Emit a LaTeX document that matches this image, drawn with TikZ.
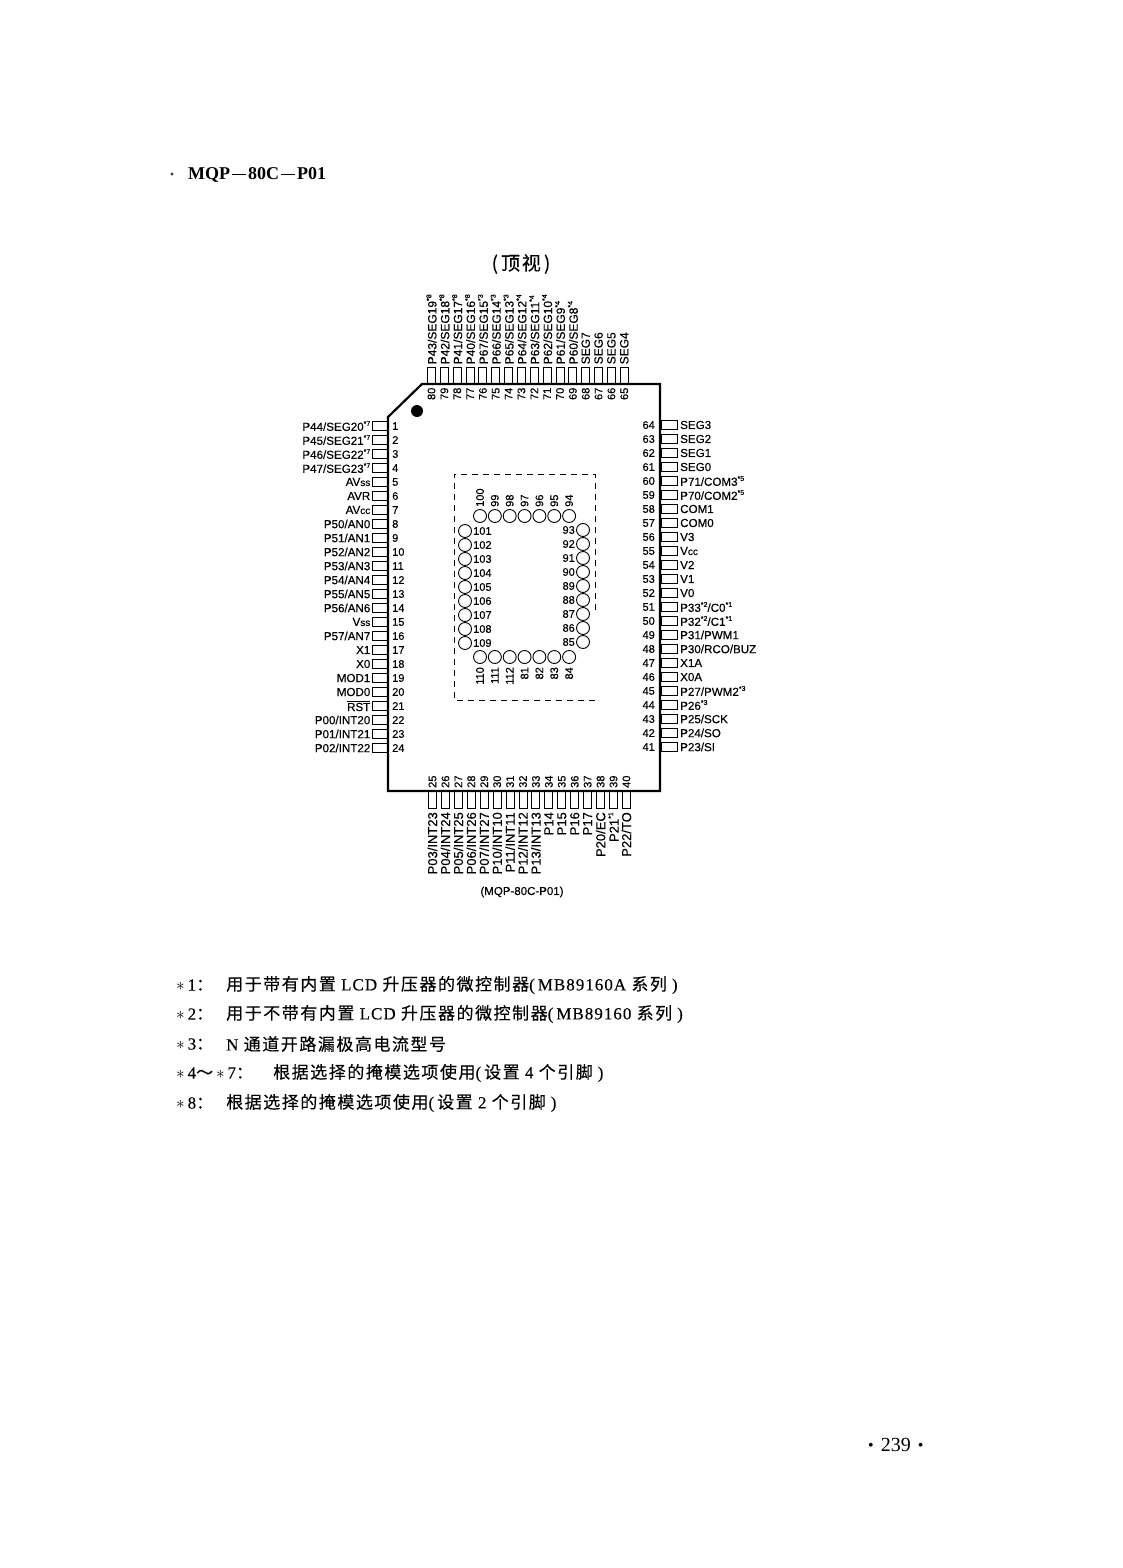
\documentclass[tikz,border=0pt]{standalone}
\usepackage{fontspec}
\setmainfont{Liberation Serif}
\setsansfont[FakeBold=0.35]{Liberation Sans}
\newfontfamily\cjk[LetterSpace=9,FakeBold=0.3]{Noto Sans CJK SC}
\newfontfamily\notefont[LetterSpace=6,FakeBold=0.25]{Liberation Serif}
\newcommand{\st}[1]{\raisebox{0.42em}{\fontsize{7}{7}\selectfont *#1}}
\newcommand{\sm}[1]{{\fontsize{10}{10}\selectfont #1}}
\newcommand{\hdash}{\hspace{2pt}\rule[4.5pt]{14pt}{1.2pt}\hspace{2pt}}
\newcommand{\lp}{(\hspace{3pt}}
\newcommand{\rp}{\hspace{5pt})}
\tikzset{
  pinh/.style={draw=black,line width=0.9pt,minimum width=16pt,minimum height=8.5pt,inner sep=0pt},
  pinv/.style={draw=black,line width=0.9pt,minimum width=8pt,minimum height=17pt,inner sep=0pt},
  lbl/.style={font=\sffamily\fontsize{11.6}{11.6}\selectfont,inner sep=0pt,text=black},
  lblt/.style={font=\sffamily\fontsize{12}{12}\selectfont,inner sep=0pt,text=black},
  lblb/.style={font=\sffamily\fontsize{13}{13}\selectfont,inner sep=0pt,text=black},
  num/.style={font=\sffamily\fontsize{11}{11}\selectfont,inner sep=0pt,text=black},
  pad/.style={draw=black,line width=0.9pt,circle,minimum size=13pt,inner sep=0pt},
  note/.style={font=\notefont\fontsize{17}{17}\selectfont,inner sep=0pt,anchor=west,text=black},
}
\newcommand{\lpin}[2]{%
  \pgfmathsetmacro{\pp}{426+14*(#1-1)}%
  \node[pinh] (p#1) at (380,\pp) {};
  \node[lbl,anchor=east] (l#1) at (370.5,\pp) {#2};
  \node[num,anchor=west] (n#1) at (392,\pp) {#1};
}
\newcommand{\rpin}[2]{%
  \pgfmathsetmacro{\pp}{425+14*(64-#1)}%
  \node[pinh] (p#1) at (669,\pp) {};
  \node[lbl,anchor=west] (l#1) at (680,\pp) {#2};
  \node[num,anchor=east] (n#1) at (655,\pp) {#1};
}
\newcommand{\tpin}[2]{%
  \pgfmathsetmacro{\pp}{431.5+12.85*(80-#1)}%
  \node[pinv] (p#1) at (\pp,375.5) {};
  \node[lblt,anchor=west,rotate=90] (l#1) at (\pp,364.5) {#2};
  \node[num,anchor=east,rotate=90] (n#1) at (\pp,387.5) {#1};
}
\newcommand{\bpin}[2]{%
  \pgfmathsetmacro{\pp}{432.5+12.93*(#1-25)}%
  \node[pinv] (p#1) at (\pp,800) {};
  \node[lblb,anchor=east,rotate=90] (l#1) at (\pp,812) {#2};
  \node[num,anchor=west,rotate=90] (n#1) at (\pp,788) {#1};
}
\begin{document}
\begin{tikzpicture}[x=1pt,y=-1pt]
\useasboundingbox (0,0) rectangle (1122,1568);
% heading
\draw[line width=0.6pt] (172,174) circle (1.3);
\node[inner sep=0pt,anchor=west,font=\bfseries\fontsize{18}{18}\selectfont] (head) at (188,175) {MQP\hdash 80C\hdash P01};
\node[inner sep=0pt,font=\cjk\fontsize{19}{19}\selectfont] (view) at (521,264) {(\,顶视\,)};
% package body
\draw[line width=2.2pt,line join=miter] (422,384) -- (660,384) -- (660,791) -- (388,791) -- (388,417) -- cycle;
\fill (417,411) circle (6);
% dashed window
\draw[line width=0.9pt,dash pattern=on 6pt off 5pt] (595,610) -- (595,474) -- (454,474) -- (454,700) -- (595,700);
% left pins
\lpin{1}{P44/SEG20\st{7}}
\lpin{2}{P45/SEG21\st{7}}
\lpin{3}{P46/SEG22\st{7}}
\lpin{4}{P47/SEG23\st{7}}
\lpin{5}{AV\sm{ss}}
\lpin{6}{AVR}
\lpin{7}{AV\sm{cc}}
\lpin{8}{P50/AN0}
\lpin{9}{P51/AN1}
\lpin{10}{P52/AN2}
\lpin{11}{P53/AN3}
\lpin{12}{P54/AN4}
\lpin{13}{P55/AN5}
\lpin{14}{P56/AN6}
\lpin{15}{V\sm{ss}}
\lpin{16}{P57/AN7}
\lpin{17}{X1}
\lpin{18}{X0}
\lpin{19}{MOD1}
\lpin{20}{MOD0}
\lpin{21}{$\overline{\mbox{RST}}$}
\lpin{22}{P00/INT20}
\lpin{23}{P01/INT21}
\lpin{24}{P02/INT22}
% right pins
\rpin{64}{SEG3}
\rpin{63}{SEG2}
\rpin{62}{SEG1}
\rpin{61}{SEG0}
\rpin{60}{P71/COM3\st{5}}
\rpin{59}{P70/COM2\st{5}}
\rpin{58}{COM1}
\rpin{57}{COM0}
\rpin{56}{V3}
\rpin{55}{V\sm{cc}}
\rpin{54}{V2}
\rpin{53}{V1}
\rpin{52}{V0}
\rpin{51}{P33\st{2}/C0\st{1}}
\rpin{50}{P32\st{2}/C1\st{1}}
\rpin{49}{P31/PWM1}
\rpin{48}{P30/RCO/BUZ}
\rpin{47}{X1A}
\rpin{46}{X0A}
\rpin{45}{P27/PWM2\st{3}}
\rpin{44}{P26\st{3}}
\rpin{43}{P25/SCK}
\rpin{42}{P24/SO}
\rpin{41}{P23/SI}
% top pins
\tpin{80}{P43/SEG19\st{8}}
\tpin{79}{P42/SEG18\st{8}}
\tpin{78}{P41/SEG17\st{8}}
\tpin{77}{P40/SEG16\st{8}}
\tpin{76}{P67/SEG15\st{3}}
\tpin{75}{P66/SEG14\st{3}}
\tpin{74}{P65/SEG13\st{3}}
\tpin{73}{P64/SEG12\st{4}}
\tpin{72}{P63/SEG11\st{4}}
\tpin{71}{P62/SEG10\st{4}}
\tpin{70}{P61/SEG9\st{4}}
\tpin{69}{P60/SEG8\st{4}}
\tpin{68}{SEG7}
\tpin{67}{SEG6}
\tpin{66}{SEG5}
\tpin{65}{SEG4}
% bottom pins
\bpin{25}{P03/INT23}
\bpin{26}{P04/INT24}
\bpin{27}{P05/INT25}
\bpin{28}{P06/INT26}
\bpin{29}{P07/INT27}
\bpin{30}{P10/INT10}
\bpin{31}{P11/INT11}
\bpin{32}{P12/INT12}
\bpin{33}{P13/INT13}
\bpin{34}{P14}
\bpin{35}{P15}
\bpin{36}{P16}
\bpin{37}{P17}
\bpin{38}{P20/EC}
\bpin{39}{P21\st{1}}
\bpin{40}{P22/TO}
% pads, top row
\foreach \n [count=\i from 0] in {100,99,98,97,96,95,94} {
  \pgfmathsetmacro{\pp}{480+14.85*\i}
  \node[pad] (pad\n) at (\pp,516) {};
  \node[num,anchor=west,rotate=90] (t\n) at (\pp,507) {\n};
}
% pads, bottom row
\foreach \n [count=\i from 0] in {110,111,112,81,82,83,84} {
  \pgfmathsetmacro{\pp}{480+14.85*\i}
  \node[pad] (pad\n) at (\pp,657) {};
  \node[num,anchor=east,rotate=90] (t\n) at (\pp,667) {\n};
}
% pads, left column
\foreach \n [count=\i from 0] in {101,...,109} {
  \pgfmathsetmacro{\pp}{531+14*\i}
  \node[pad] (pad\n) at (465,\pp) {};
  \node[num,anchor=west] (t\n) at (473,\pp) {\n};
}
% pads, right column
\foreach \n [count=\i from 0] in {93,92,91,90,89,88,87,86,85} {
  \pgfmathsetmacro{\pp}{530+14*\i}
  \node[pad] (pad\n) at (583,\pp) {};
  \node[num,anchor=east] (t\n) at (575,\pp) {\n};
}
\node[inner sep=0pt,font=\sffamily\fontsize{11.5}{11.5}\selectfont] (cap) at (522,892) {(MQP-80C-P01)};
% notes
\node[note] (s1) at (176,985) {$\ast$\,1{\cjk ：}};
\node[note] (t1) at (226,985) {{\cjk 用于带有内置} LCD {\cjk 升压器的微控制器}\lp MB89160A {\cjk 系列}\rp};
\node[note] (s2) at (176,1014) {$\ast$\,2{\cjk ：}};
\node[note] (t2) at (226,1014) {{\cjk 用于不带有内置} LCD {\cjk 升压器的微控制器}\lp MB89160 {\cjk 系列}\rp};
\node[note] (s3) at (176,1044) {$\ast$\,3{\cjk ：}};
\node[note] (t3) at (226,1044) {N {\cjk 通道开路漏极高电流型号}};
\node[note] (s4) at (176,1073) {$\ast$\,4{\cjk ～}\,$\ast$\,7{\cjk ：}};
\node[note] (t4) at (273,1073) {{\cjk 根据选择的掩模选项使用}\lp{\cjk 设置} 4 {\cjk 个引脚}\rp};
\node[note] (s5) at (176,1103) {$\ast$\,8{\cjk ：}};
\node[note] (t5) at (226,1103) {{\cjk 根据选择的掩模选项使用}\lp{\cjk 设置} 2 {\cjk 个引脚}\rp};
\node[inner sep=0pt,anchor=west,font=\fontsize{20}{20}\selectfont] (page) at (868,1445) {\raisebox{1pt}{\fontsize{16}{16}\selectfont\textbullet}\hspace{7pt}239\hspace{7pt}\raisebox{1pt}{\fontsize{16}{16}\selectfont\textbullet}};
\end{tikzpicture}
\end{document}
